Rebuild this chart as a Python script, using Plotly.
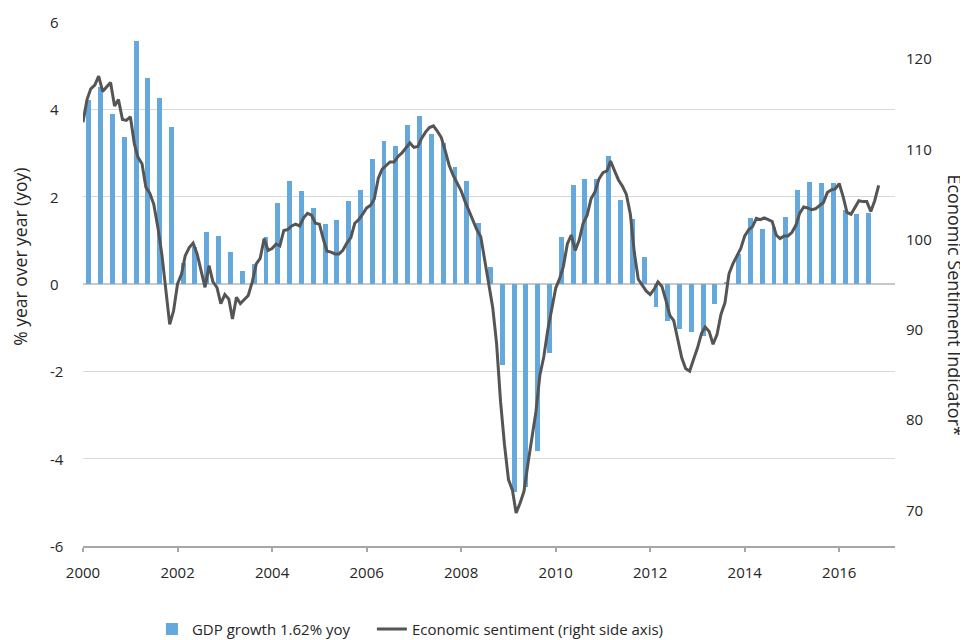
import plotly.graph_objects as go

# ---------------- data ----------------
# Quarterly GDP growth, % yoy (2000 Q1 .. 2016 Q3), drawn at mid-quarter
gdp_2000_2003 = [4.21, 4.51, 3.89, 3.36, 5.57, 4.71, 4.27, 3.59,
                 0.49, 0.85, 1.20, 1.11, 0.74, 0.29, 0.45, 1.08]
gdp_2004_2007 = [1.85, 2.35, 2.13, 1.74, 1.37, 1.46, 1.89, 2.15,
                 2.87, 3.28, 3.17, 3.64, 3.85, 3.44, 3.24, 2.68]
gdp_2008_2011 = [2.36, 1.39, 0.39, -1.86, -4.77, -4.64, -3.82, -1.58,
                 1.08, 2.26, 2.40, 2.41, 2.92, 1.92, 1.50, 0.61]
gdp_2012_2016 = [-0.53, -0.85, -1.02, -1.10, -1.19, -0.46, 0.05, 0.69,
                 1.52, 1.27, 1.31, 1.54, 2.16, 2.34, 2.32, 2.32,
                 1.70, 1.61, 1.62]
gdp_growth = gdp_2000_2003 + gdp_2004_2007 + gdp_2008_2011 + gdp_2012_2016

# Monthly economic sentiment indicator (Jan 2000 .. Nov 2016)
esi_2000 = [113.0, 115.5, 116.7, 117.1, 118.1, 116.4, 116.9, 117.4, 114.8, 115.5, 113.3, 113.2]
esi_2001 = [113.6, 110.6, 109.1, 108.4, 105.8, 105.1, 103.9, 101.4, 98.4, 94.7, 90.6, 92.1]
esi_2002 = [95.1, 96.2, 98.2, 99.1, 99.6, 98.4, 96.6, 94.7, 97.1, 95.3, 94.7, 92.9]
esi_2003 = [93.9, 93.4, 91.2, 93.6, 92.9, 93.4, 93.8, 95.3, 97.3, 97.9, 100.1, 98.8]
esi_2004 = [99.0, 99.5, 99.3, 101.0, 101.1, 101.5, 101.7, 101.5, 102.4, 102.9, 102.7, 101.8]
esi_2005 = [101.7, 100.0, 98.7, 98.6, 98.4, 98.4, 98.8, 99.6, 100.2, 101.8, 102.2, 102.8]
esi_2006 = [103.5, 103.8, 104.5, 106.8, 107.8, 108.2, 108.6, 108.6, 109.2, 109.6, 110.1, 110.7]
esi_2007 = [110.2, 110.3, 111.2, 111.9, 112.4, 112.6, 112.0, 111.3, 109.8, 108.2, 107.1, 106.2]
esi_2008 = [105.4, 104.2, 103.2, 102.3, 101.1, 100.3, 97.6, 95.0, 92.5, 88.5, 82.0, 77.3]
esi_2009 = [73.4, 72.2, 69.7, 70.8, 72.1, 75.2, 77.8, 80.9, 85.0, 87.0, 90.0, 92.5]
esi_2010 = [94.6, 95.7, 97.0, 99.5, 100.5, 98.8, 99.9, 101.8, 102.7, 104.5, 105.3, 106.7]
esi_2011 = [107.4, 107.6, 108.7, 107.6, 106.6, 105.9, 105.0, 102.8, 98.5, 95.6, 95.0, 94.3]
esi_2012 = [93.9, 94.5, 95.3, 94.8, 93.3, 91.6, 91.0, 88.8, 86.9, 85.7, 85.4, 86.7]
esi_2013 = [88.0, 89.6, 90.3, 89.8, 88.4, 89.5, 91.7, 93.0, 96.2, 97.3, 98.2, 99.0]
esi_2014 = [100.4, 101.1, 101.4, 102.35, 102.2, 102.4, 102.2, 102.0, 100.5, 100.1, 100.4, 100.4]
esi_2015 = [100.8, 101.6, 102.9, 103.6, 103.5, 103.3, 103.4, 103.7, 104.1, 105.2, 105.5, 105.6]
esi_2016 = [106.2, 104.7, 103.0, 102.8, 103.6, 104.3, 104.2, 104.2, 103.1, 104.3, 106.0]
sentiment = (esi_2000 + esi_2001 + esi_2002 + esi_2003 + esi_2004 + esi_2005 +
             esi_2006 + esi_2007 + esi_2008 + esi_2009 + esi_2010 + esi_2011 +
             esi_2012 + esi_2013 + esi_2014 + esi_2015 + esi_2016)

x_tick_years = [2000, 2002, 2004, 2006, 2008, 2010, 2012, 2014, 2016]
left_ticks = [-6, -4, -2, 0, 2, 4, 6]
right_ticks = [70, 80, 90, 100, 110, 120]

gdp_label = "GDP growth 1.62% yoy"
esi_label = "Economic sentiment (right side axis)"
left_title = "% year over year (yoy)"
right_title = "Economic Sentiment Indicator*"

# ---------------- dates ----------------
mid_q_months = [2, 5, 8, 11]
gdp_dates = [f"{2000 + i // 4}-{mid_q_months[i % 4]:02d}-15" for i in range(len(gdp_growth))]
esi_dates = [f"{2000 + i // 12}-{i % 12 + 1:02d}-01" for i in range(len(sentiment))]

FONT = "Open Sans"
TXT = "#262626"
DAY_MS = 86400000

fig = go.Figure()
fig.add_trace(go.Bar(
    x=gdp_dates, y=gdp_growth, name=gdp_label,
    marker=dict(color="#64A8DC", line=dict(width=0)),
    width=[38 * DAY_MS] * len(gdp_growth),
    yaxis="y", legend="legend",
))
fig.add_trace(go.Scatter(
    x=esi_dates, y=sentiment, name=esi_label, mode="lines",
    line=dict(color="#555555", width=3),
    yaxis="y2", legend="legend2",
))

# left tick labels are left-aligned in the reference -> drawn as annotations on the y scale
left_tick_annots = [
    dict(text=str(v), xref="paper", yref="y", x=-0.0431, y=v, xanchor="left",
         yanchor="middle", showarrow=False, font=dict(size=15, color=TXT))
    for v in left_ticks
]

legend_common = dict(orientation="h", yanchor="middle", y=-0.159, xanchor="left",
                     font=dict(size=15, color=TXT), bgcolor="rgba(0,0,0,0)",
                     itemwidth=30)

# page body has an 8px margin, so the figure is 8px smaller
fig.update_layout(
    width=960, height=632,
    margin=dict(l=75, r=73, t=14, b=94, autoexpand=False),
    paper_bgcolor="white", plot_bgcolor="white",
    font=dict(family=FONT, size=15, color=TXT),
    showlegend=True,
    legend=dict(x=0.0849, **legend_common),
    legend2=dict(x=0.3558, **legend_common),
    bargap=0,
    xaxis=dict(
        type="date", range=["2000-01-01", "2017-03-07"],
        tickvals=[f"{y}-01-01" for y in x_tick_years],
        ticktext=[str(y) for y in x_tick_years],
        ticks="outside", ticklen=4, tickcolor="#A6A6A6", tickwidth=1.5,
        showline=True, linecolor="#A6A6A6", linewidth=1.5,
        showgrid=False, zeroline=False, automargin=False,
        tickfont=dict(size=15, color=TXT), ticklabelstandoff=8,
    ),
    yaxis=dict(
        range=[-6, 6], tickvals=left_ticks, showticklabels=False,
        showgrid=True, gridcolor="#D9D9D9", gridwidth=1,
        zeroline=True, zerolinecolor="#C8C8C8", zerolinewidth=1.5,
        showline=False, ticks="", automargin=False,
    ),
    yaxis2=dict(
        range=[66.04, 124.10], overlaying="y", side="right",
        tickvals=right_ticks, ticktext=[str(v) for v in right_ticks],
        showgrid=False, zeroline=False, showline=False, ticks="",
        tickfont=dict(size=15, color=TXT), ticklabelstandoff=10, automargin=False,
    ),
    annotations=left_tick_annots + [
        dict(text=left_title, xref="paper", yref="paper", x=-0.0776, y=0.552,
             textangle=-90, showarrow=False, font=dict(size=17.5, color=TXT),
             xanchor="center", yanchor="middle"),
        dict(text=right_title, xref="paper", yref="paper", x=1.0735, y=0.4596,
             textangle=90, showarrow=False, font=dict(size=18, color=TXT),
             xanchor="center", yanchor="middle"),
    ],
)

fig.write_html("out.html")
